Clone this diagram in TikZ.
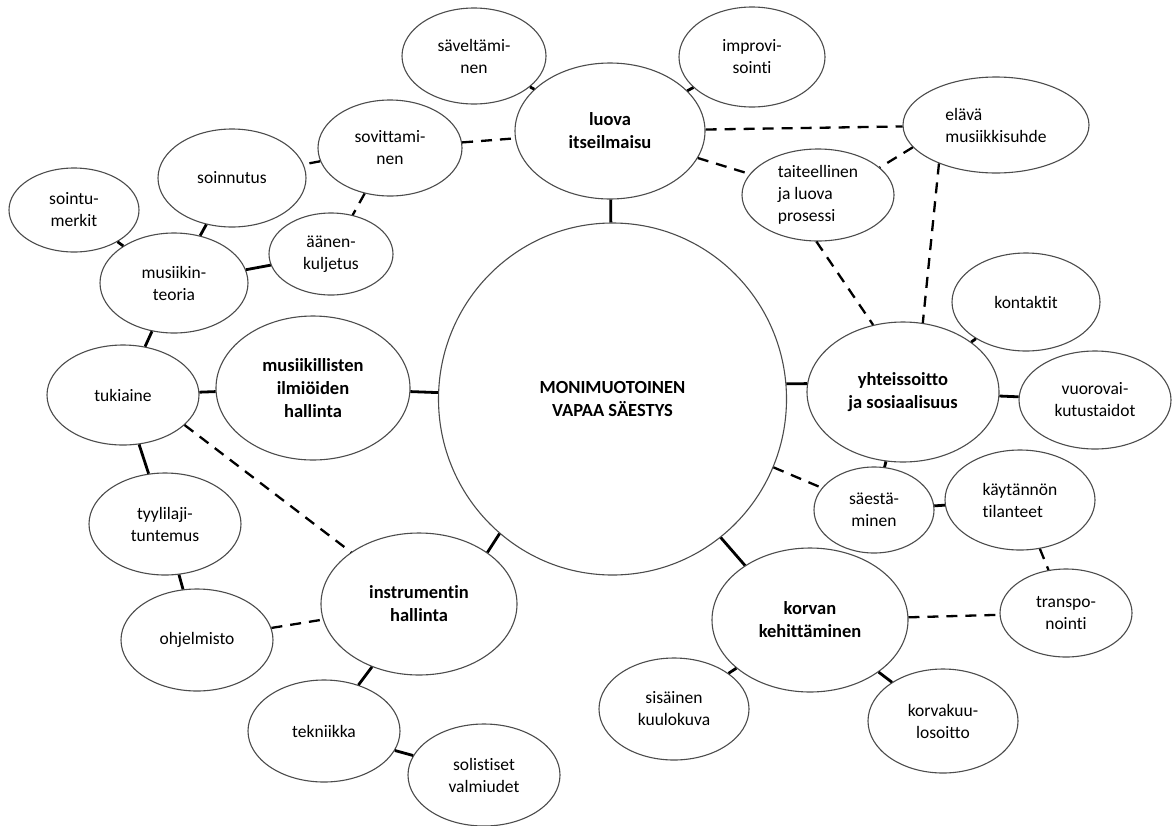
\documentclass[tikz,border=0pt]{standalone}
\usepackage{fontspec}
\setmainfont{Carlito}[Ligatures={NoCommon}]
\usetikzlibrary{shapes.geometric}
\begin{document}
\begin{tikzpicture}[x=1pt,y=-1pt,
  bub/.style={ellipse, draw=black!70, line width=1.1pt, inner sep=0pt, fill=white,
    align=center, font=\fontsize{17.5}{22}\selectfont},
  bubl/.style={bub, align=left},
  main/.style={bub, font=\fontsize{18.5}{23}\selectfont\bfseries},
  con/.style={line width=2.8pt, black},
  dcon/.style={line width=2.3pt, black, dash pattern=on 11pt off 8pt},
]
\useasboundingbox (0,0) rectangle (1172,825);
\fill[white] (0,0) rectangle (1172,825);

% main nodes
\node[main, minimum width=348pt, minimum height=352pt] (C) at (612.5,399) {MONIMUOTOINEN\\VAPAA SÄESTYS};
\node[main, minimum width=190pt, minimum height=136pt] (L) at (610,131) {luova\\itseilmaisu};
\node[main, minimum width=194pt, minimum height=144pt] (MIH) at (313,388) {musiikillisten\\ilmiöiden\\hallinta};
\node[main, minimum width=196pt, minimum height=142pt] (INS) at (419,604) {instrumentin\\hallinta};
\node[main, minimum width=192pt, minimum height=140pt] (YHT) at (903,392) {yhteissoitto\\ja sosiaalisuus};
\node[main, minimum width=196pt, minimum height=144pt] (KOR) at (810,620) {korvan\\kehittäminen};

% other nodes
\node[bub, minimum width=144pt, minimum height=96pt] (S1) at (474,56) {säveltämi-\\nen};
\node[bub, minimum width=146pt, minimum height=100pt] (IMP) at (752,57) {improvi-\\sointi};
\node[bub, minimum width=144pt, minimum height=96pt] (SOV) at (390,148) {sovittami-\\nen};
\node[bub, minimum width=148pt, minimum height=98pt] (SOI) at (232,178) {soinnutus};
\node[bub, minimum width=130pt, minimum height=84pt] (SM) at (74,210) {sointu-\\merkit};
\node[bub, minimum width=148pt, minimum height=100pt] (MT) at (174,283) {musiikin-\\teoria};
\node[bub, minimum width=124pt, minimum height=82pt] (AK) at (331,254) {äänen-\\kuljetus};
\node[bub, minimum width=152pt, minimum height=100pt] (TUK) at (123,395) {tukiaine};
\node[bub, minimum width=152pt, minimum height=102pt] (TYY) at (165,524) {tyylilaji-\\tuntemus};
\node[bub, minimum width=152pt, minimum height=102pt] (OHJ) at (197,640) {ohjelmisto};
\node[bub, minimum width=152pt, minimum height=102pt] (TEK) at (324,731) {tekniikka};
\node[bub, minimum width=152pt, minimum height=102pt] (SOL) at (484,775) {solistiset\\valmiudet};
\node[bubl, minimum width=152pt, minimum height=92pt] (TAI) at (818,195) {taiteellinen\\ja luova\\prosessi};
\node[bubl, minimum width=186pt, minimum height=96pt] (ELA) at (996,125) {elävä\\musiikkisuhde};
\node[bub, minimum width=148pt, minimum height=98pt] (KON) at (1026,302) {kontaktit};
\node[bub, minimum width=152pt, minimum height=98pt] (VUO) at (1095,400) {vuorovai-\\kutustaidot};
\node[bub, minimum width=120pt, minimum height=86pt] (SAE) at (874,510) {säestä-\\minen};
\node[bubl, minimum width=150pt, minimum height=100pt] (KAY) at (1020,500) {käytännön\\tilanteet};
\node[bub, minimum width=132pt, minimum height=88pt] (TRA) at (1066,613) {transpo-\\nointi};
\node[bub, minimum width=150pt, minimum height=102pt] (SIS) at (674,709) {sisäinen\\kuulokuva};
\node[bub, minimum width=150pt, minimum height=104pt] (KKU) at (943,721) {korvakuu-\\losoitto};

% solid connectors
\draw[con] (SM) -- (MT);
\draw[con] (SOI) -- (MT);
\draw[con] (MT) -- (AK);
\draw[con] (MT) -- (TUK);
\draw[con] (TUK) -- (MIH);
\draw[con] (MIH) -- (C);
\draw[con] (S1) -- (L);
\draw[con] (IMP) -- (L);
\draw[con] (L) -- (C);
\draw[con] (C.5) -- (YHT.175);
\draw[con] (KON) -- (YHT);
\draw[con] (YHT) -- (VUO);
\draw[con] (YHT) -- (SAE);
\draw[con] (SAE) -- (KAY);
\draw[con] (C.-52) -- (KOR.140);
\draw[con] (KOR) -- (SIS);
\draw[con] (KOR) -- (KKU);
\draw[con] (INS.37) -- (C.230);
\draw[con] (INS) -- (TEK);
\draw[con] (TEK) -- (SOL);
\draw[con] (TUK) -- (TYY);
\draw[con] (TYY) -- (OHJ);

% dashed connectors
\draw[dcon] (SOV) -- (L);
\draw[dcon] (SOV) -- (SOI);
\draw[dcon] (SOV) -- (AK);
\draw[dcon] (L) -- (ELA);
\draw[dcon] (L) -- (TAI);
\draw[dcon] (ELA.195) -- (TAI.24);
\draw[dcon] (TAI.268) -- (YHT.114);
\draw[dcon] (ELA.214) -- (YHT.74);
\draw[dcon] (C) -- (SAE);
\draw[dcon] (KAY) -- (TRA);
\draw[dcon] (KOR) -- (TRA);
\draw[dcon] (TUK.-26) -- (INS);
\draw[dcon] (OHJ) -- (INS);
\end{tikzpicture}
\end{document}
